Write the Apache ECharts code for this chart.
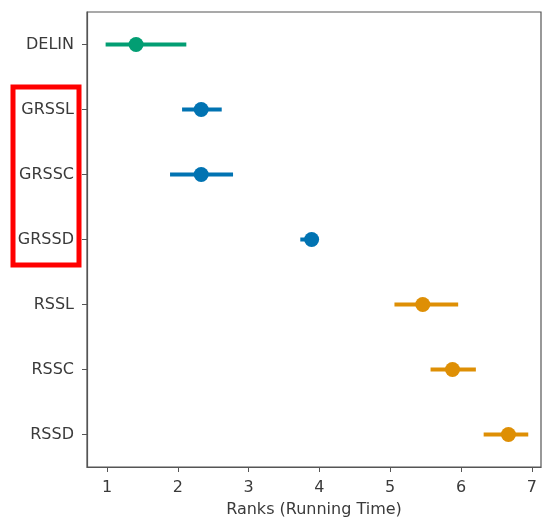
<!DOCTYPE html>
<html><head><meta charset="utf-8">
<script src="https://cdn.jsdelivr.net/npm/echarts@6/dist/echarts.min.js"></script>
<style>html,body{margin:0;padding:0;background:#fff}#c{width:543px;height:522px}</style>
</head><body><div id="c"></div>
<script>
const categories = ['DELIN','GRSSL','GRSSC','GRSSD','RSSL','RSSC','RSSD'];
const means = [1.41, 2.33, 2.33, 3.89, 5.46, 5.88, 6.67];
const lows  = [0.98, 2.06, 1.89, 3.73, 5.06, 5.57, 6.32];
const highs = [2.12, 2.62, 2.78, 3.95, 5.96, 6.21, 6.95];
const colors = ['#029e73','#0173b2','#0173b2','#0173b2','#de8f05','#de8f05','#de8f05'];
const xTicks = [1,2,3,4,5,6,7];

const chart = echarts.init(document.getElementById('c'));
const font = 'DejaVu Sans';
chart.setOption({
  animation:false,
  grid:{left:87,right:2,top:12,bottom:55,show:true,borderColor:'#555',borderWidth:1.2,containLabel:false,outerBoundsMode:'none'},
  xAxis:{type:'value',min:0.717,max:7.13,
    name:'Ranks (Running Time)',nameLocation:'middle',nameGap:35,
    nameTextStyle:{fontFamily:font,fontSize:16,color:'#3a3a3a'},
    axisLine:{show:true,lineStyle:{color:'#555',width:1.2}},
    axisTick:{show:true,length:5,lineStyle:{color:'#555'},customValues:xTicks},
    axisLabel:{fontFamily:font,fontSize:16,color:'#3a3a3a',margin:13,customValues:xTicks,
      formatter:v=>String(Math.round(v))},
    splitLine:{show:false}},
  yAxis:{type:'category',data:categories,inverse:true,
    axisLine:{show:true,lineStyle:{color:'#555',width:1.2}},
    axisTick:{show:true,alignWithLabel:true,length:5,lineStyle:{color:'#555'}},
    axisLabel:{fontFamily:font,fontSize:16,color:'#3a3a3a',margin:13},
    splitLine:{show:false}},
  series:[
    {type:'custom',
     data:categories.map((c,i)=>[lows[i],highs[i],i]),
     renderItem:function(params,api){
       const i=api.value(2);
       const p1=api.coord([api.value(0),i]);
       const p2=api.coord([api.value(1),i]);
       return {type:'line',shape:{x1:p1[0],y1:p1[1],x2:p2[0],y2:p2[1]},
         style:{stroke:colors[i],lineWidth:4}};
     },
     encode:{x:[0,1],y:2},z:2},
    {type:'scatter',symbol:'circle',symbolSize:15,
     data:means.map((m,i)=>({value:[m,i],itemStyle:{color:colors[i],opacity:1}})),z:3}
  ],
  graphic:[{type:'rect',shape:{x:13,y:87,width:66,height:178},
    style:{fill:'none',stroke:'#ff0000',lineWidth:5},z:100}]
});
</script></body></html>
